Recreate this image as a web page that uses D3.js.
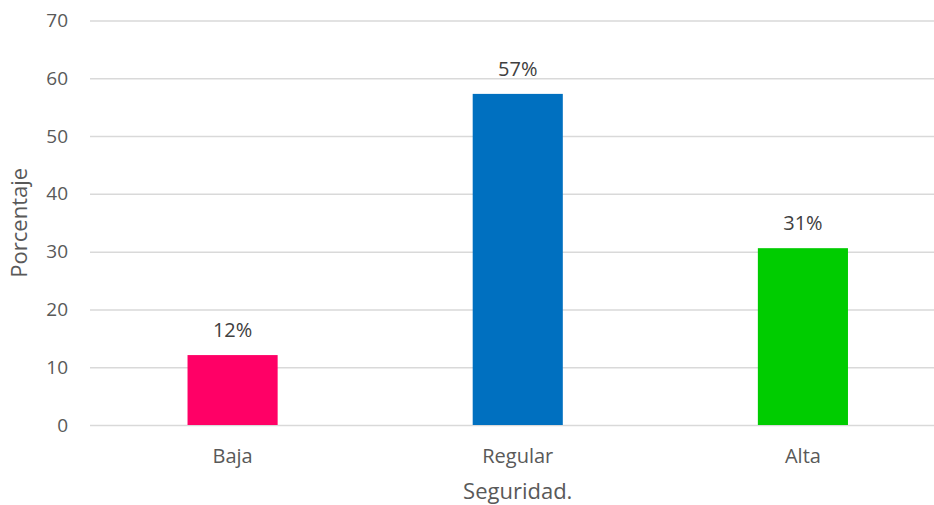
<!DOCTYPE html>
<html>
<head>
<meta charset="utf-8">
<script src="https://cdn.jsdelivr.net/npm/d3@7"></script>
<style>
  html, body { margin: 0; padding: 0; background: #fff; }
  svg { display: block; font-family: "Open Sans", "Noto Sans", sans-serif; }
</style>
</head>
<body>
<svg id="chart" width="934" height="505"></svg>
<script>
// Nivel de seguridad percibido (porcentaje por categoría)
const categories = ["Baja", "Regular", "Alta"];
const values = [12.1, 57.3, 30.6];
const barColors = ["#FF0066", "#0070C0", "#00CC00"];
const yTicks = [0, 10, 20, 30, 40, 50, 60, 70];
const xTitle = "Seguridad.";
const yTitle = "Porcentaje";

const width = 934, height = 505;
const margin = { top: 20.5, right: -11.5, bottom: 80, left: 90 };
const fontFamily = '"Open Sans", "Noto Sans", sans-serif';

const svg = d3.select("#chart");

const x = d3.scaleBand()
  .domain(categories)
  .range([margin.left, width - margin.right])
  .paddingInner(0.684)
  .paddingOuter(0.342);

const y = d3.scaleLinear()
  .domain([0, 70])
  .range([height - margin.bottom, margin.top]);

// Horizontal gridlines with tick labels
const yAxis = svg.append("g")
  .attr("transform", `translate(${margin.left},0)`)
  .call(d3.axisLeft(y)
    .tickValues(yTicks)
    .tickSize(-(width - margin.left))
    .tickPadding(22));
yAxis.attr("font-family", fontFamily).attr("font-size", 19);
yAxis.select(".domain").remove();
yAxis.selectAll(".tick line")
  .attr("stroke", "#D9D9D9")
  .attr("stroke-width", 1.5);
yAxis.selectAll(".tick text")
  .attr("fill", "#595959");

// Bars
svg.append("g")
  .selectAll("rect")
  .data(values)
  .join("rect")
  .attr("x", (d, i) => x(categories[i]))
  .attr("width", x.bandwidth())
  .attr("y", d => y(d))
  .attr("height", d => y(0) - y(d))
  .attr("fill", (d, i) => barColors[i]);

// Value labels above bars
const fmt = d => d3.format(".0f")(d) + "%";
svg.append("g")
  .selectAll("text")
  .data(values)
  .join("text")
  .attr("x", (d, i) => x(categories[i]) + x.bandwidth() / 2)
  .attr("y", d => y(d) - 18)
  .attr("text-anchor", "middle")
  .attr("fill", "#404040")
  .attr("font-size", "20px")
  .text(fmt);

// Category labels
svg.append("g")
  .selectAll("text")
  .data(categories)
  .join("text")
  .attr("x", d => x(d) + x.bandwidth() / 2)
  .attr("y", y(0) + 38)
  .attr("text-anchor", "middle")
  .attr("fill", "#595959")
  .attr("font-size", "20px")
  .text(d => d);

// Axis titles
svg.append("text")
  .attr("x", x("Regular") + x.bandwidth() / 2)
  .attr("y", height - 6)
  .attr("text-anchor", "middle")
  .attr("fill", "#595959")
  .attr("font-size", "22px")
  .text(xTitle);

svg.append("text")
  .attr("transform", `translate(27,${(y(0) + y(70)) / 2}) rotate(-90)`)
  .attr("text-anchor", "middle")
  .attr("fill", "#595959")
  .attr("font-size", "22px")
  .text(yTitle);
</script>
</body>
</html>
